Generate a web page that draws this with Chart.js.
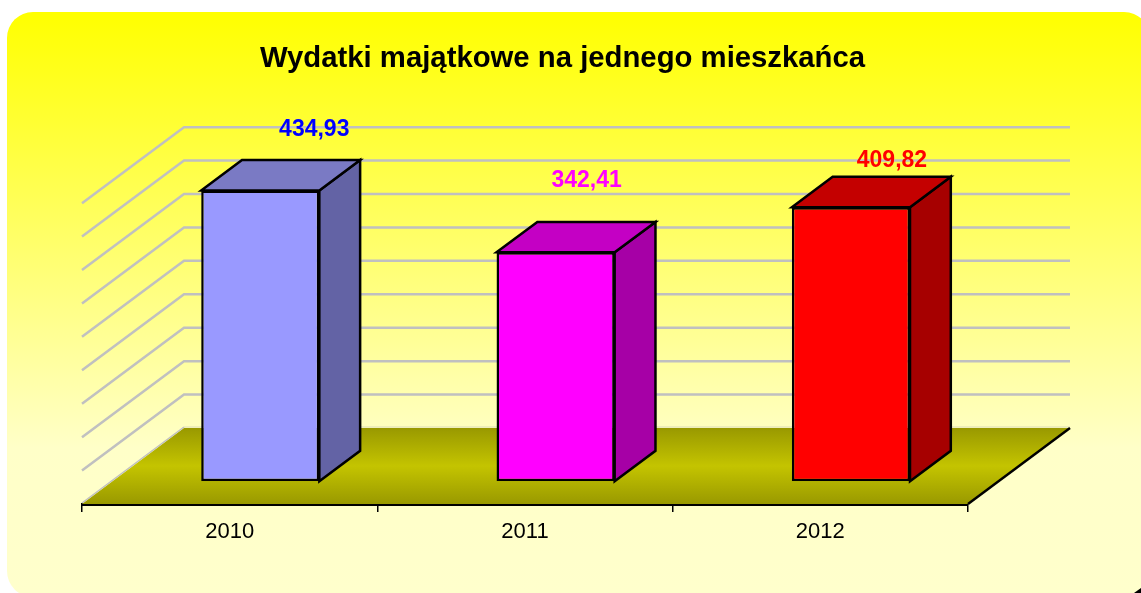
<!DOCTYPE html>
<html>
<head>
<meta charset="utf-8">
<style>html,body{margin:0;padding:0;background:#fff;overflow:hidden}canvas{display:block}</style>
<script src="https://cdn.jsdelivr.net/npm/chart.js@4/dist/chart.umd.min.js"></script>
</head>
<body>
<canvas id="c" width="1141" height="593"></canvas>
<script>
const categories = ['2010', '2011', '2012'];
const values = [434.93, 342.41, 409.82];
const frontColors = ['#9999ff', '#ff00ff', '#ff0000'];
const topColors = ['#7a7ac4', '#c400c4', '#c40000'];
const sideColors = ['#6363a5', '#a600a6', '#a60000'];
const labelColors = ['#0000ff', '#ff00ff', '#ff0000'];
const labelOffsets = [[54, -61], [31, -72], [41, -47]];
const yMax = 450, yStep = 50;
const depth = { dx: 102, dy: -76 }, barFront = 0.3, barBack = 0.7;

const scene = {
  id: 'scene',
  beforeDraw(chart) {
    const c = chart.ctx;
    const g = c.createLinearGradient(0, 12, 0, 593);
    g.addColorStop(0, '#ffff00');
    g.addColorStop(0.75, '#ffffc8');
    g.addColorStop(1, '#ffffcc');
    c.save();
    c.fillStyle = '#fff';
    c.fillRect(0, 0, chart.width, chart.height);
    c.beginPath();
    c.roundRect(7, 12, 1143, 585, 26);
    c.fillStyle = g;
    c.fill();
    c.fillStyle = '#000';
    c.beginPath();
    c.moveTo(1134, 593); c.lineTo(1141, 588); c.lineTo(1141, 593);
    c.closePath(); c.fill();
    c.restore();
  },
  beforeDatasetsDraw(chart) {
    const c = chart.ctx, x = chart.scales.x, y = chart.scales.y;
    const l = x.left, r = x.right, y0 = y.getPixelForValue(0);
    c.save();
    // Walls
    c.strokeStyle = '#c0c0c0';
    c.lineWidth = 2.5;
    for (let v = yStep; v <= yMax; v += yStep) {
      const py = y.getPixelForValue(v);
      c.beginPath();
      c.moveTo(l, py);
      c.lineTo(l + depth.dx, py + depth.dy);
      c.lineTo(r + depth.dx, py + depth.dy);
      c.stroke();
    }
    // Floor
    const fg = c.createLinearGradient(0, y0 + depth.dy, 0, y0);
    fg.addColorStop(0, '#999900');
    fg.addColorStop(0.5, '#c4c400');
    fg.addColorStop(1, '#999900');
    c.beginPath();
    c.moveTo(l, y0);
    c.lineTo(l + depth.dx, y0 + depth.dy);
    c.lineTo(r + depth.dx, y0 + depth.dy);
    c.lineTo(r, y0);
    c.closePath();
    c.fillStyle = fg;
    c.fill();
    c.strokeStyle = '#e8e8b8';
    c.lineWidth = 1.5;
    c.beginPath();
    c.moveTo(l + depth.dx, y0 + depth.dy - 1);
    c.lineTo(r + depth.dx, y0 + depth.dy - 1);
    c.stroke();
    c.strokeStyle = '#c0c0c0';
    c.lineWidth = 1.5;
    c.beginPath();
    c.moveTo(l, y0 - 1);
    c.lineTo(l + depth.dx, y0 + depth.dy - 1);
    c.stroke();
    c.strokeStyle = '#000';
    c.lineWidth = 2.5;
    c.beginPath();
    c.moveTo(r, y0);
    c.lineTo(r + depth.dx, y0 + depth.dy);
    c.stroke();
    // Side and top faces
    const ox = depth.dx * barFront, oy = depth.dy * barFront;
    const bx = depth.dx * (barBack - barFront), by = depth.dy * (barBack - barFront);
    chart.getDatasetMeta(0).data.forEach((bar, i) => {
      const xl = bar.x - bar.width / 2 + ox, xr = bar.x + bar.width / 2 + ox;
      const yt = bar.y + oy, yb = bar.base + oy;
      c.lineWidth = 2.5;
      c.strokeStyle = '#000';
      c.lineJoin = 'miter';
      c.fillStyle = sideColors[i];
      c.beginPath();
      c.moveTo(xr, yt); c.lineTo(xr + bx, yt + by); c.lineTo(xr + bx, yb + by); c.lineTo(xr, yb);
      c.closePath(); c.fill(); c.stroke();
      c.fillStyle = topColors[i];
      c.beginPath();
      c.moveTo(xl, yt); c.lineTo(xl + bx, yt + by); c.lineTo(xr + bx, yt + by); c.lineTo(xr, yt);
      c.closePath(); c.fill(); c.stroke();
    });
    c.restore();
  },
  beforeDatasetDraw(chart) {
    const c = chart.ctx;
    c.save();
    c.translate(depth.dx * barFront, depth.dy * barFront);
  },
  afterDatasetDraw(chart) {
    chart.ctx.restore();
  },
  afterDatasetsDraw(chart) {
    const c = chart.ctx;
    const ox = depth.dx * barFront;
    c.save();
    c.font = 'bold 23px "Liberation Sans", Arial, sans-serif';
    c.textAlign = 'center';
    c.textBaseline = 'middle';
    chart.getDatasetMeta(0).data.forEach((bar, i) => {
      c.fillStyle = labelColors[i];
      const py = bar.y + depth.dy * barFront;
      c.fillText(values[i].toFixed(2).replace('.', ','), bar.x + ox + labelOffsets[i][0], py + labelOffsets[i][1]);
    });
    c.restore();
  },
  afterLayout(chart) {
    chart.titleBlock.left = 0;
    chart.titleBlock.right = 1125;
  }
};

new Chart(document.getElementById('c'), {
  type: 'bar',
  data: {
    labels: categories,
    datasets: [{
      label: 'Wydatki majątkowe na jednego mieszkańca',
      data: values,
      backgroundColor: frontColors,
      borderColor: '#000',
      borderWidth: 2.5,
      borderSkipped: false,
      barPercentage: 0.4,
      categoryPercentage: 1
    }]
  },
  options: {
    responsive: false,
    animation: false,
    layout: { padding: { left: 82, right: 173, top: 0, bottom: 0 } },
    plugins: {
      legend: { display: false },
      tooltip: { enabled: false },
      title: {
        display: true,
        text: 'Wydatki majątkowe na jednego mieszkańca',
        color: '#000',
        font: { family: '"Liberation Sans", Arial, sans-serif', size: 29.3, weight: 'bold', lineHeight: 1.2 },
        padding: { top: 41, bottom: 127 }
      }
    },
    scales: {
      x: {
        offset: true,
        afterFit(s) { s.height = 89; },
        border: { color: '#000', width: 3 },
        grid: { drawOnChartArea: false, drawTicks: true, tickLength: 8, color: '#000', lineWidth: 1.5, offset: true },
        ticks: { color: '#000', padding: 7, font: { family: '"Liberation Sans", Arial, sans-serif', size: 22 } }
      },
      y: { display: false, min: 0, max: yMax, ticks: { stepSize: yStep } }
    }
  },
  plugins: [scene]
});
</script>
</body>
</html>
